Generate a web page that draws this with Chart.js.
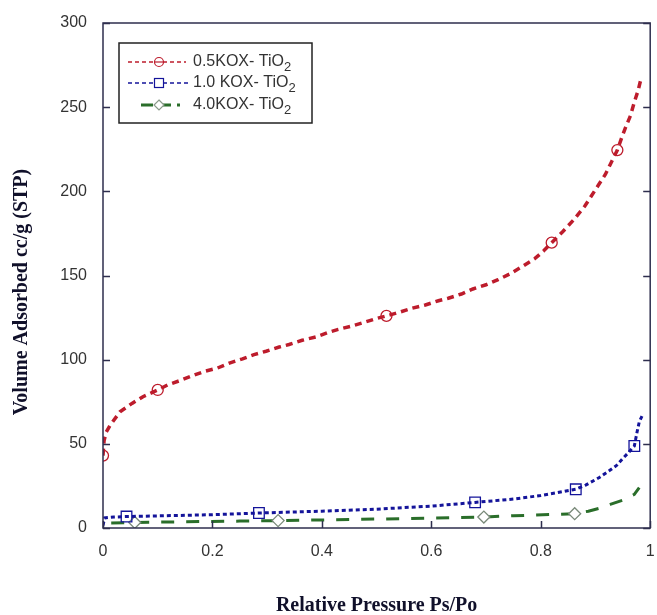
<!DOCTYPE html>
<html>
<head>
<meta charset="utf-8">
<script src="https://cdn.jsdelivr.net/npm/chart.js@4"></script>
<style>
  html, body { margin: 0; padding: 0; background: #fff; }
  #wrap { width: 657px; height: 615px; }
</style>
</head>
<body>
<div id="wrap"><canvas id="myChart" width="657" height="615"></canvas></div>
<script>
// values
const kox05X = [0, 0.002, 0.006, 0.013, 0.031, 0.053, 0.073, 0.1, 0.118, 0.14, 0.164, 0.185, 0.209, 0.231, 0.255, 0.276, 0.298, 0.322, 0.34, 0.364, 0.389, 0.41, 0.43, 0.455, 0.476, 0.5, 0.518, 0.54, 0.564, 0.589, 0.613, 0.631, 0.655, 0.676, 0.7, 0.722, 0.744, 0.767, 0.789, 0.805, 0.82, 0.84, 0.86, 0.88, 0.904, 0.918, 0.927, 0.94, 0.947, 0.955, 0.964, 0.971, 0.978, 0.984];
const kox05Y = [43, 52, 57, 61, 69, 74, 78, 82, 85, 87.5, 90.5, 93, 95, 98, 100.5, 103, 105, 107.5, 109, 111.5, 113.5, 116, 118, 120, 122, 124.5, 126, 128, 130.5, 132.5, 135, 136.5, 139, 142, 144.5, 147.5, 151, 155.5, 160, 164.5, 169.5, 176, 183, 191, 203, 210, 216, 224.5, 231, 238, 245, 253, 260, 268];
const kox05Marks = [0, 0.1, 0.518, 0.82, 0.94];

const kox10X = [0, 0.003, 0.02, 0.043, 0.1, 0.2, 0.285, 0.4, 0.5, 0.6, 0.68, 0.75, 0.8, 0.83, 0.864, 0.882, 0.907, 0.925, 0.938, 0.949, 0.958, 0.971, 0.976, 0.98, 0.985];
const kox10Y = [1.5, 6, 6.5, 6.8, 7.2, 7.9, 8.9, 10, 11.2, 13, 15.2, 17.2, 19.3, 21, 23, 25.5, 30, 34, 37, 41, 44, 48.7, 57, 63, 66.5];
const kox10Marks = [0.043, 0.285, 0.68, 0.864, 0.971];

const kox40X = [0.015, 0.058, 0.15, 0.25, 0.32, 0.4, 0.5, 0.6, 0.696, 0.75, 0.82, 0.862, 0.887, 0.91, 0.927, 0.95, 0.971, 0.98];
const kox40Y = [3, 3.3, 3.7, 4.1, 4.4, 4.8, 5.3, 5.9, 6.5, 7.3, 8, 8.5, 10, 12, 14, 16.5, 20, 24];
const kox40Marks = [0.058, 0.32, 0.696, 0.862];

const seriesNames = ['0.5KOX- TiO', '1.0 KOX- TiO', '4.0KOX- TiO'];
const xTicks = [0, 0.2, 0.4, 0.6, 0.8, 1];
const yTicks = [0, 50, 100, 150, 200, 250, 300];

const toPoints = (xs, ys) => xs.map((x, i) => ({ x: x, y: ys[i] }));
const markRadius = (marks, r) => (c) => (c.raw && marks.includes(c.raw.x)) ? r : 0;

const styles = [
  { color: '#bd1c2c', dash: [7, 5], width: 3.5, point: 'circle', r: 5.5 },
  { color: '#14149a', dash: [4, 3], width: 3, point: 'rect', r: 7.5 },
  { color: '#2a6e2a', dash: [13, 12], width: 3, point: 'rectRot', r: 6 }
];

// frame, inward ticks, y title and the boxed legend
const framePlugin = {
  id: 'frame',
  afterDraw(chart) {
    const { ctx, chartArea: a, scales } = chart;
    ctx.save();
    ctx.strokeStyle = '#2e2e4e';
    ctx.lineWidth = 1.5;
    ctx.strokeRect(a.left, a.top, a.right - a.left, a.bottom - a.top);
    ctx.beginPath();
    yTicks.forEach(v => {
      const y = Math.round(scales.y.getPixelForValue(v)) + 0.5;
      ctx.moveTo(a.left, y); ctx.lineTo(a.left + 7, y);
      ctx.moveTo(a.right, y); ctx.lineTo(a.right - 7, y);
    });
    xTicks.forEach(v => {
      const x = Math.round(scales.x.getPixelForValue(v)) + 0.5;
      ctx.moveTo(x, a.bottom); ctx.lineTo(x, a.bottom - 7);
    });
    ctx.stroke();

    // y axis title
    ctx.save();
    ctx.translate(22, 292);
    ctx.rotate(-Math.PI / 2);
    ctx.fillStyle = '#10102a';
    ctx.font = 'bold 20px "Liberation Serif", "Times New Roman", serif';
    ctx.textAlign = 'center';
    ctx.textBaseline = 'middle';
    ctx.fillText('Volume Adsorbed cc/g (STP)', 0, 0);
    ctx.restore();

    // legend box
    const bx = 119, by = 43, bw = 193, bh = 80;
    ctx.fillStyle = '#fff';
    ctx.fillRect(bx, by, bw, bh);
    ctx.strokeStyle = '#222';
    ctx.lineWidth = 1.5;
    ctx.strokeRect(bx, by, bw, bh);
    const rows = [62, 83, 105];
    const spans = [[128, 186], [128, 190], [141, 180]];
    styles.forEach((s, i) => {
      const y = rows[i];
      ctx.save();
      ctx.strokeStyle = s.color;
      ctx.lineWidth = i === 2 ? 3 : 1.5;
      ctx.setLineDash(i === 2 ? [12, 6] : [4, 3]);
      ctx.beginPath();
      ctx.moveTo(spans[i][0], y); ctx.lineTo(spans[i][1], y);
      ctx.stroke();
      ctx.setLineDash([]);
      ctx.lineWidth = 1.2;
      ctx.fillStyle = '#fff';
      const cx = 159;
      ctx.beginPath();
      if (s.point === 'circle') {
        ctx.arc(cx, y, 4.5, 0, Math.PI * 2);
        ctx.fill(); ctx.stroke();
        ctx.beginPath(); ctx.moveTo(cx - 4.5, y); ctx.lineTo(cx + 4.5, y); ctx.stroke();
      } else if (s.point === 'rect') {
        ctx.fillRect(cx - 4.5, y - 4.5, 9, 9);
        ctx.strokeRect(cx - 4.5, y - 4.5, 9, 9);
      } else {
        ctx.strokeStyle = '#8a9a8a';
        ctx.moveTo(cx, y - 5); ctx.lineTo(cx + 5, y); ctx.lineTo(cx, y + 5); ctx.lineTo(cx - 5, y); ctx.closePath();
        ctx.fill(); ctx.stroke();
      }
      ctx.restore();
      ctx.fillStyle = '#333';
      ctx.font = '16px "Liberation Sans", Arial, sans-serif';
      ctx.textAlign = 'left';
      ctx.textBaseline = 'middle';
      ctx.fillText(seriesNames[i], 193, y);
      const w = ctx.measureText(seriesNames[i]).width;
      ctx.font = '13px "Liberation Sans", Arial, sans-serif';
      ctx.fillText('2', 193 + w, y + 5);
    });
    ctx.restore();
  }
};

const ctx = document.getElementById('myChart').getContext('2d');

const myChart = new Chart(ctx, {
  type: 'scatter',
  data: {
    datasets: [
      { data: toPoints(kox05X, kox05Y), marks: kox05Marks },
      { data: toPoints(kox10X, kox10Y), marks: kox10Marks },
      { data: toPoints(kox40X, kox40Y), marks: kox40Marks }
    ].map((d, i) => ({
      label: seriesNames[i] + '2',
      data: d.data,
      showLine: true,
      borderColor: styles[i].color,
      borderWidth: styles[i].width,
      borderDash: styles[i].dash,
      tension: 0,
      pointStyle: styles[i].point,
      pointRadius: markRadius(d.marks, styles[i].r),
      pointHoverRadius: 0,
      pointBorderColor: i === 2 ? '#7a8a7a' : styles[i].color,
      pointBorderWidth: 1.3,
      pointBackgroundColor: i === 2 ? '#fff' : 'rgba(255,255,255,0)'
    }))
  },
  options: {
    responsive: false,
    animation: false,
    layout: { padding: { left: 0, right: 4, top: 23, bottom: 0 } },
    plugins: {
      legend: { display: false },
      tooltip: { enabled: false }
    },
    scales: {
      x: {
        type: 'linear',
        min: 0,
        max: 1,
        afterFit: (s) => { s.height = 87; s.paddingLeft = 0; s.paddingRight = 0; },
        afterBuildTicks: (s) => { s.ticks = xTicks.map(v => ({ value: v })); },
        grid: { display: false, drawTicks: false },
        border: { display: false },
        ticks: {
          color: '#333',
          padding: 14,
          maxRotation: 0,
          callback: (v) => String(v),
          font: { size: 16, family: '"Liberation Sans", Arial, sans-serif' }
        },
        title: {
          display: true,
          text: 'Relative Pressure Ps/Po',
          color: '#10102a',
          padding: { top: 0, bottom: -3 },
          font: { size: 20, weight: 'bold', family: '"Liberation Serif", "Times New Roman", serif' }
        }
      },
      y: {
        min: 0,
        max: 300,
        afterFit: (s) => { s.width = 103; s.paddingTop = 0; s.paddingBottom = 0; },
        afterBuildTicks: (s) => { s.ticks = yTicks.map(v => ({ value: v })); },
        grid: { display: false, drawTicks: false },
        border: { display: false },
        ticks: {
          color: '#333',
          padding: 16,
          font: { size: 16, family: '"Liberation Sans", Arial, sans-serif' }
        }
      }
    }
  },
  plugins: [framePlugin]
});
</script>
</body>
</html>
